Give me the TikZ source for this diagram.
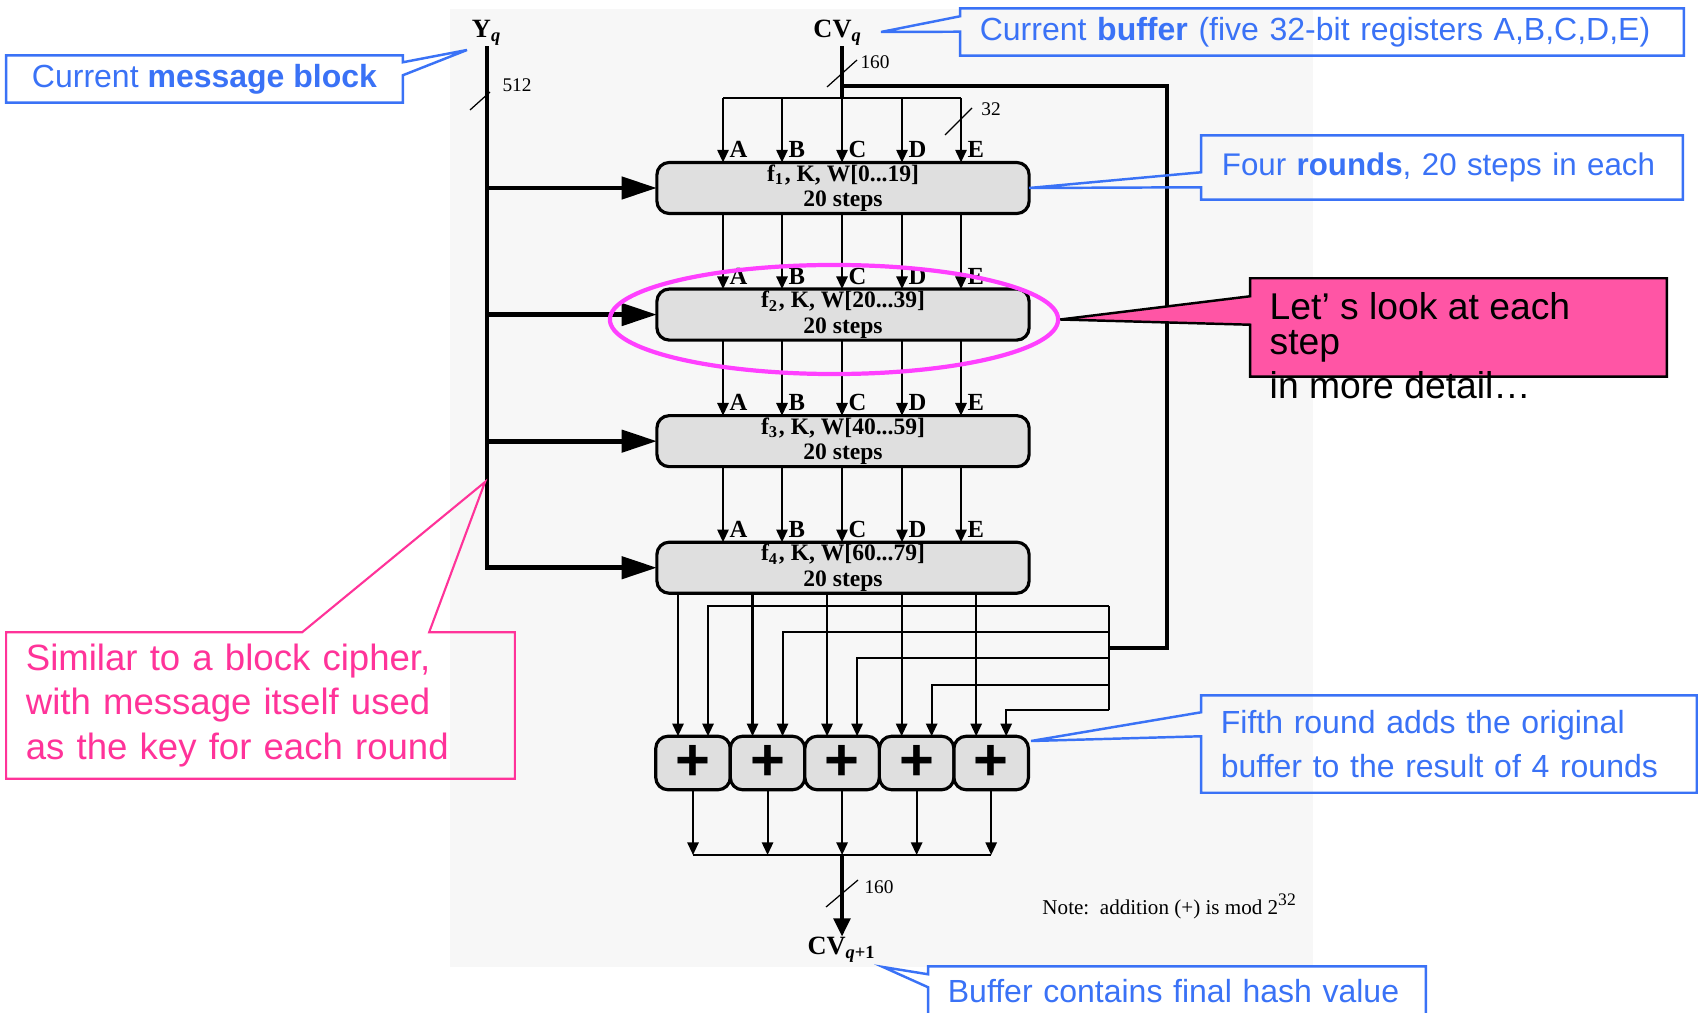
\documentclass[tikz,border=0pt]{standalone}
\usepackage{fontspec}
\setmainfont{Liberation Serif}
\setsansfont{Liberation Sans}
\usepackage{tikz}
\usetikzlibrary{arrows.meta, positioning, shapes.geometric, calc}

\definecolor{paneback}{HTML}{F7F7F7}
\definecolor{boxgray}{HTML}{DFDFDF}
\definecolor{noteblue}{RGB}{58,114,246}
\definecolor{notepink}{RGB}{255,51,153}
\definecolor{ringpink}{RGB}{255,64,255}
\definecolor{flagpink}{RGB}{255,85,165}

\begin{document}
\begin{tikzpicture}[
  x=0.01cm, y=-0.01cm,
  >={Triangle[length=3.6pt,width=3.2pt]},
  node distance=0.755cm,
  roundbox/.style={draw, line width=0.9pt, fill=boxgray, rounded corners=3.5pt,
    minimum width=3.72cm, minimum height=0.51cm, inner sep=0pt, outer sep=0pt,
    align=center, font=\fontsize{6.7}{7.2}\selectfont\bfseries},
  adder/.style={draw, line width=0.9pt, fill=boxgray, rounded corners=3.5pt,
    minimum width=0.745cm, minimum height=0.535cm, inner sep=0pt, outer sep=0pt,
    font=\sffamily\bfseries\fontsize{17}{17}\selectfont},
  busline/.style={line width=0.6pt},
  keyline/.style={line width=1.4pt},
  keyarrow/.style={keyline, -{Triangle[length=10pt,width=6.2pt]}},
  cvline/.style={line width=1.3pt},
  feedline/.style={line width=1pt},
  regname/.style={font=\fontsize{7}{7}\selectfont\bfseries, inner sep=0pt, anchor=west},
  varname/.style={font=\fontsize{7.5}{7.5}\selectfont\bfseries, inner sep=0pt},
  widthtag/.style={font=\fontsize{5.5}{5.5}\selectfont, inner sep=0pt},
  slash/.style={line width=0.35pt},
  bluenote/.style={text=noteblue, inner xsep=0.19cm, inner ysep=0pt, align=left,
    font=\sffamily\fontsize{9.1}{11}\selectfont},
  pinknote/.style={text=notepink, inner xsep=0.19cm, inner ysep=0pt, align=left,
    font=\sffamily\fontsize{10.4}{12.6}\selectfont},
  noteframe/.style={draw=noteblue, line width=0.7pt},
]
\useasboundingbox (0,0) rectangle (1698,1013);
\clip (0,0) rectangle (1698,1013);
\fill[paneback] (450,9) rectangle (1313,967);

% inputs
\node[varname] (yq) at (487,33) {Y\textsubscript{\textit{q}}};
\node[varname] (cvq) at (838,33) {CV\textsubscript{\textit{q}}};

% the four rounds
\node[roundbox] (round1) at (843,188) {f\textsubscript{1}, K, W[0...19]\\20 steps};
\node[roundbox, below=of round1] (round2) {f\textsubscript{2}, K, W[20...39]\\20 steps};
\node[roundbox, below=of round2] (round3) {f\textsubscript{3}, K, W[40...59]\\20 steps};
\node[roundbox, below=of round3] (round4) {f\textsubscript{4}, K, W[60...79]\\20 steps};

% buffer split into A..E
\foreach \c/\x in {A/723, B/782, C/842, D/902, E/961}
  \coordinate (col\c) at (\x,98);
\coordinate (tap) at (842,86);
\draw[cvline] (cvq.south -| colC) -- (colC);
\draw[busline] (colA) -- (colE);
\foreach \c in {A,B,C,D,E} {
  \draw[busline,->] (col\c) -- (round1.north -| col\c);
  \node[regname] (reg1\c) at ($(round1.north -| col\c)+(6,-13)$) {\c};
}
\foreach \r/\s in {1/2, 2/3, 3/4}
  \foreach \c in {A,B,C,D,E} {
    \draw[busline,->] (round\r.south -| col\c) -- (round\s.north -| col\c);
    \node[regname] (reg\s\c) at ($(round\s.north -| col\c)+(6,-13)$) {\c};
  }

% message block feeds every round
\draw[keyarrow] (yq.south) |- (round4.west);
\foreach \r in {1,2,3}
  \draw[keyarrow] (yq.south |- round\r.west) -- (round\r.west);

% bus widths
\draw[slash] (470,110) -- (490,92);
\node[widthtag] (w512) at (517,85) {512};
\draw[slash] (827,87) -- (857,60);
\node[widthtag] (w160top) at (875,62) {160};
\draw[slash] (945,135) -- (972,108);
\node[widthtag] (w32) at (991,109) {32};

% fifth round: adders
\node[adder] (add1) at (693,763) {+};
\foreach \i [count=\j from 2] in {1,...,4}
  \node[adder, right=0pt of add\i] (add\j) {+};

\foreach \i/\y in {1/606, 2/632, 3/658, 4/685, 5/710} {
  \coordinate (inL\i) at ([xshift=-0.15cm]add\i.north);
  \coordinate (inR\i) at ([xshift=0.15cm]add\i.north);
  \coordinate (fork\i) at (1109,\y);
  \draw[busline,->] (round4.south -| inL\i) -- (inL\i);
  \draw[busline,->] (fork\i) -| (inR\i);
}
\draw[busline] (fork1) -- (fork5);
\coordinate (loopend) at (1109,648);
\draw[feedline] (tap) -| (1167,648) -- (loopend);

% output
\node[varname] (cvnext) at (842,950) {CV\textsubscript{\textit{q}+1}};
\coordinate (outbus) at (842,855);
\foreach \i in {1,...,5}
  \draw[busline,->] (add\i.south) -- (add\i.south |- outbus);
\draw[busline] (add1.south |- outbus) -- (add5.south |- outbus);
\draw[cvline,-{Triangle[length=5.2pt,width=4.6pt]}] (outbus) -- (cvnext.north -| outbus);
\draw[slash] (826,907) -- (858,880);
\node[widthtag] (w160low) at (879,887) {160};
\node[font=\fontsize{6}{6}\selectfont, inner sep=0pt] (modnote) at (1170,906)
  {Note:\ \ addition (+) is mod 2\textsuperscript{32}};

% highlight of round 2
\node[ellipse, draw=ringpink, line width=1.2pt, minimum width=4.48cm,
  minimum height=1.09cm, inner sep=0pt] (focus) at (834,319.5) {};
\node[minimum width=4.15cm, minimum height=0.97cm, inner sep=0pt] (lookbox) at (1458.5,327.5) {};
\draw[fill=flagpink, line width=0.7pt] (lookbox.north west) -- (lookbox.north east)
  -- (lookbox.south east) -- (lookbox.south west) -- ($(lookbox.south west)+(0,-52)$)
  -- (focus.east) -- ($(lookbox.north west)+(0,18)$) -- cycle;
\node[anchor=north west, inner sep=0pt, align=left, font=\sffamily\fontsize{10.6}{10}\selectfont]
  (looktext) at (1269,292) {Let’ s look at each\\step\\[2.3pt]in more detail…};

% callouts
\coordinate (msgtip) at (467,50);
\node[bluenote, align=center, minimum width=3.95cm, minimum height=0.46cm]
  (msgnote) at (204.5,79) {Current \textbf{message block}};
\draw[noteframe] (msgnote.north west) -- (msgnote.north east)
  -- ($(msgnote.north east)+(0,7)$) -- (msgtip) -- ($(msgnote.north east)+(0,20)$)
  -- (msgnote.south east) -- (msgnote.south west) -- cycle;

\coordinate (buftip) at (881,32);
\node[bluenote, text width=6.84cm, minimum height=0.46cm]
  (bufnote) at (1322,32) {Current \textbf{buffer} (five 32-bit registers A,B,C,D,E)};
\draw[noteframe] (bufnote.north west) -- (bufnote.north east)
  -- (bufnote.south east) -- (bufnote.south west) -- ($(bufnote.south west)+(0,-24)$)
  -- (buftip) -- ($(bufnote.north west)+(0,8)$) -- cycle;

\node[bluenote, inner xsep=0.15cm, text width=4.5cm, minimum height=0.63cm,
  font=\sffamily\fontsize{8.9}{11}\selectfont]
  (roundnote) at (1442,167.5) {\hspace*{0.05cm}Four \textbf{rounds}, 20 steps in each};
\draw[noteframe] (roundnote.north west) -- (roundnote.north east)
  -- (roundnote.south east) -- (roundnote.south west) -- ($(roundnote.north west)+(0,52)$)
  -- (round1.east) -- ($(roundnote.north west)+(0,37)$) -- cycle;

\coordinate (fifthtip) at (1031,741);
\node[bluenote, text width=4.56cm, minimum height=0.96cm, font=\sffamily\fontsize{9.1}{12.5}\selectfont]
  (fifthnote) at (1449,744) {Fifth round adds the original\\buffer to the result of 4 rounds};
\draw[noteframe] (fifthnote.north west) -- (fifthnote.north east)
  -- (fifthnote.south east) -- (fifthnote.south west) -- ($(fifthnote.north west)+(0,41)$)
  -- (fifthtip) -- ($(fifthnote.north west)+(0,17)$) -- cycle;

\coordinate (finaltip) at (883,967);
\node[bluenote, text width=4.58cm, minimum height=0.48cm]
  (finalnote) at (1177,991) {Buffer contains final hash value};
\draw[noteframe] (finalnote.north west) -- (finalnote.north east)
  -- (finalnote.south east) -- (finalnote.south west) -- ($(finalnote.north west)+(0,21)$)
  -- (finaltip) -- ($(finalnote.north west)+(0,8)$) -- cycle;

\coordinate (simtip) at (485,482);
\node[pinknote, text width=4.69cm, minimum height=1.45cm]
  (simnote) at (260.5,705.5) {Similar to a block cipher,\\with message itself used\\as the key for each round};
\draw[draw=notepink, line width=0.6pt] (simnote.north west) -- ($(simnote.north west)+(296,0)$)
  -- (simtip) -- ($(simnote.north west)+(423,0)$) -- (simnote.north east)
  -- (simnote.south east) -- (simnote.south west) -- cycle;
\end{tikzpicture}
\end{document}
